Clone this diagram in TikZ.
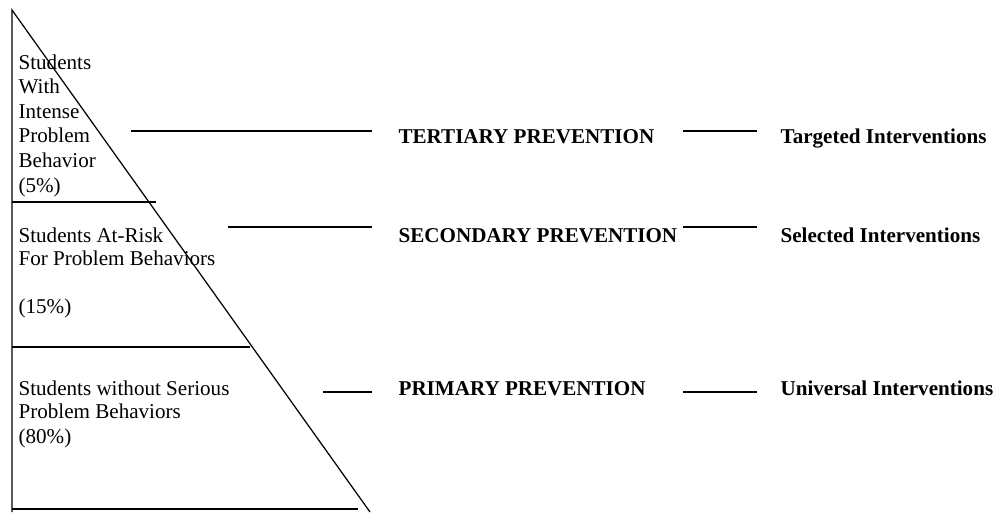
\documentclass[tikz,border=0pt]{standalone}
\usepackage{fontspec}
\setmainfont{Liberation Serif}

\begin{document}
\begin{tikzpicture}[x=0.02cm, y=-0.02cm, line width=0.7pt,
  every node/.style={inner sep=0pt, anchor=base west, font=\fontsize{12}{14}\selectfont},
  tier/.style={font=\fontsize{12}{14}\selectfont\bfseries}]

\useasboundingbox (0,0) rectangle (1007,512);

%triangle
\coordinate (apex) at (12,10);
\coordinate (foot) at (12,512);
\coordinate (tip) at (370,512);
\draw (foot) -- (apex) -- (tip);

%levels
\foreach \y/\x in {202/156, 347/250, 509/358}
\draw (12,\y) -- (\x,\y);

%groups
\foreach \t [count=\i from 0] in {Students, With, Intense, Problem, Behavior, (5\%)}
\node (top\i) at (18,69+24.6*\i) {\t};

\node (risk1) at (18,242) {Students At-Risk};
\node (risk2) at (18,265) {For Problem Behaviors};
\node (risk3) at (18,313) {(15\%)};

\node (all1) at (18,395) {Students without Serious};
\node (all2) at (18,418) {Problem Behaviors};
\node (all3) at (18,443) {(80\%)};

%prevention
\node[tier] (tert) at (398,143) {TERTIARY PREVENTION};
\node[tier] (sec)  at (398,242) {SECONDARY PREVENTION};
\node[tier] (prim) at (398,395) {PRIMARY PREVENTION};

%interventions
\node[tier] (targ) at (780,143) {Targeted Interventions};
\node[tier] (sel)  at (780,242) {Selected Interventions};
\node[tier] (univ) at (780,395) {Universal Interventions};

%lines
\foreach \n/\y/\x in {tert/131/131, sec/227/228, prim/392/323} {
\coordinate (\n-a) at (\x,\y);
\coordinate (\n-b) at (372,\y);
\coordinate (\n-c) at (683,\y);
\coordinate (\n-d) at (757,\y);
\draw (\n-a) -- (\n-b) (\n-c) -- (\n-d);
}

\end{tikzpicture}
\end{document}
